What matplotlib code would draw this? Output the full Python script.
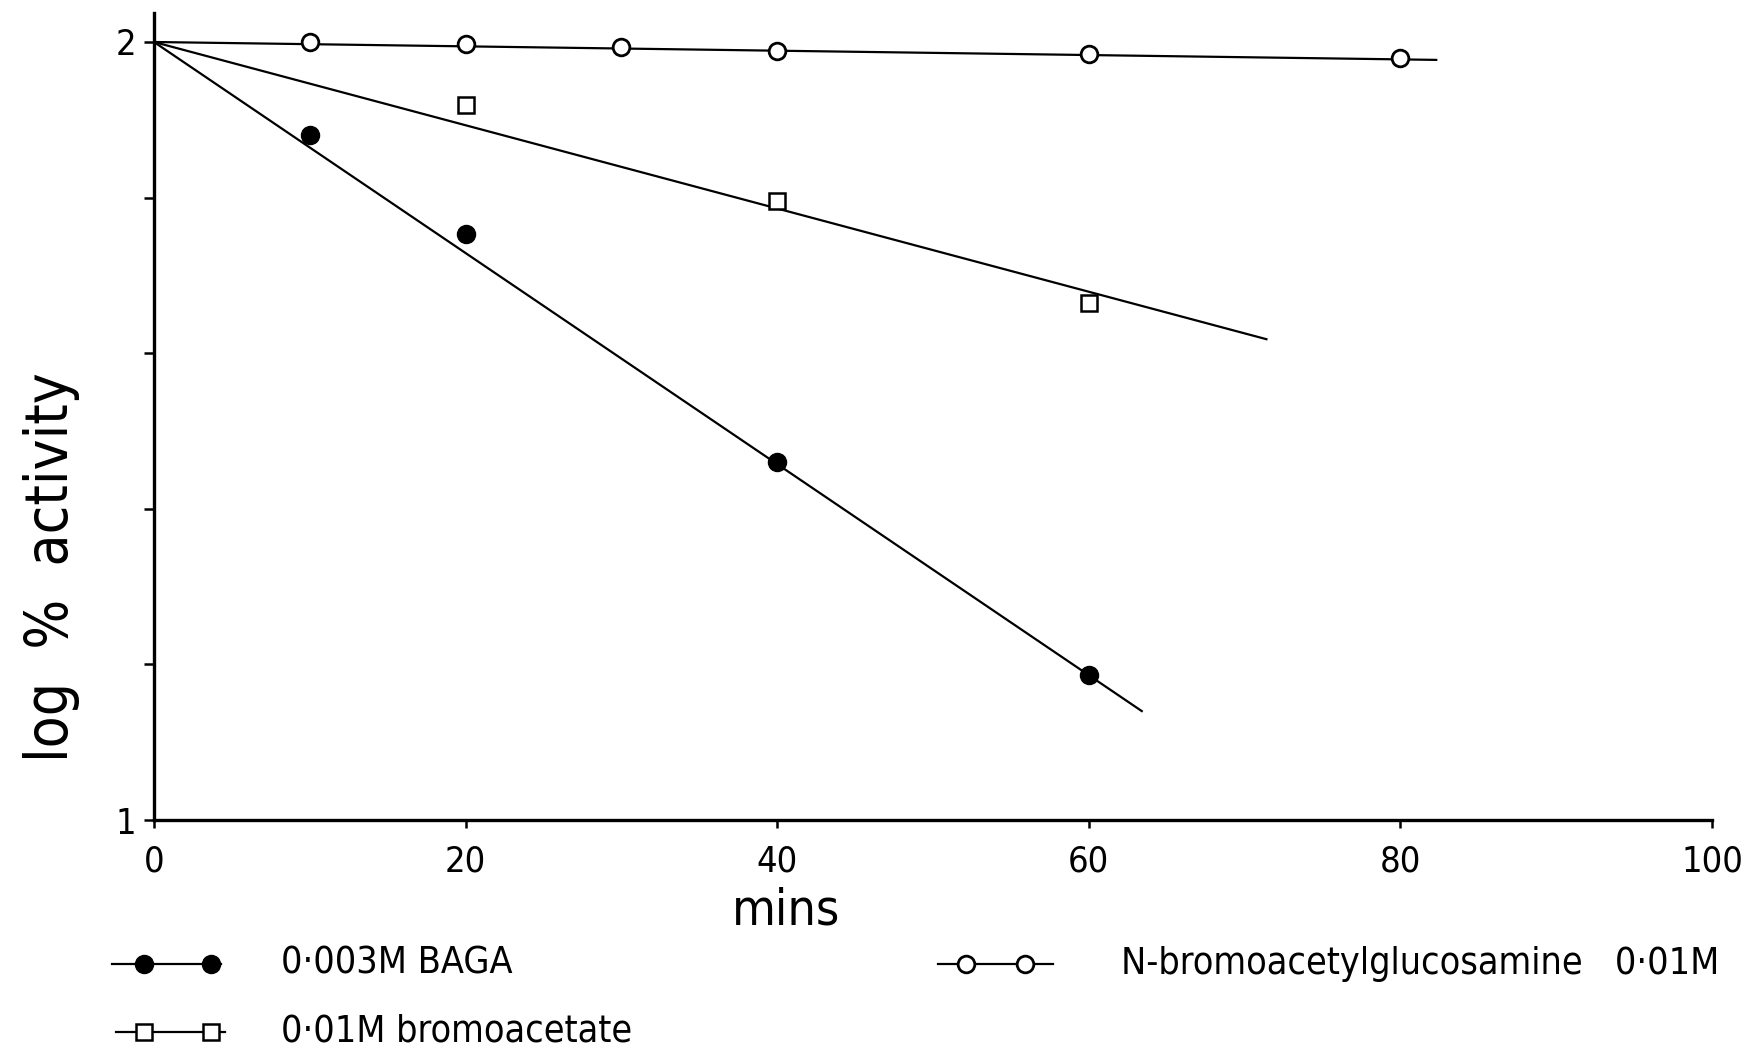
import matplotlib
matplotlib.use("Agg")
import matplotlib.pyplot as plt
from matplotlib.lines import Line2D

plt.rcParams['font.family'] = ['DejaVu Sans']
plt.rcParams['font.stretch'] = 'condensed'

# Measured points: time (mins) vs log % activity
baga_t = [10, 20, 40, 60]
baga_y = [1.880, 1.753, 1.460, 1.186]
bromo_t = [20, 40, 60]
bromo_y = [1.919, 1.795, 1.664]
nbag_t = [10, 20, 30, 40, 60, 80]
nbag_y = [2.000, 1.998, 1.994, 1.988, 1.985, 1.979]

# Fitted straight lines (start and end points)
baga_fit_t = [0, 63.4]
baga_fit_y = [2.0, 1.140]
bromo_fit_t = [0, 71.4]
bromo_fit_y = [2.0, 1.618]
nbag_fit_t = [0, 82.3]
nbag_fit_y = [2.0, 1.977]

x_ticks = [0, 20, 40, 60, 80, 100]
y_ticks = [1.0, 1.2, 1.4, 1.6, 1.8, 2.0]
y_tick_labels = ['1', '', '', '', '', '2']

labels = ['0·003M BAGA', '0·01M bromoacetate', 'N-bromoacetylglucosamine   0·01M']

W, H = 1762, 1056
fig = plt.figure(figsize=(W / 100, H / 100), dpi=100)
ax = fig.add_axes([154 / W, 1 - 820 / H, (1712 - 154) / W, (820 - 13) / H])

lw = 1.6
ax.plot(baga_fit_t, baga_fit_y, color='black', lw=lw, zorder=2)
ax.plot(bromo_fit_t, bromo_fit_y, color='black', lw=lw, zorder=2)
ax.plot(nbag_fit_t, nbag_fit_y, color='black', lw=lw, zorder=2)

ax.plot(baga_t, baga_y, 'o', ms=13, color='black', zorder=3, clip_on=False)
ax.plot(bromo_t, bromo_y, 's', ms=11, mfc='white', mec='black', mew=1.8, zorder=3)
ax.plot(nbag_t, nbag_y, 'o', ms=12, mfc='white', mec='black', mew=2.0, zorder=3)

ax.set_xlim(0, 100)
ax.set_ylim(1.0, 2.0 + 29 / 778)
for side in ['top', 'right']:
    ax.spines[side].set_visible(False)
for side in ['left', 'bottom']:
    ax.spines[side].set_linewidth(2.4)

ax.set_xticks(x_ticks)
ax.set_xticklabels([str(v) for v in x_ticks])
ax.set_yticks(y_ticks)
ax.set_yticklabels(y_tick_labels)
ax.tick_params(axis='x', direction='out', length=6, width=1.8, pad=12, labelsize=26)
ax.tick_params(axis='y', direction='out', length=7, width=1.8, pad=6, labelsize=26)

ax.set_xlabel('mins', fontsize=36)
ax.xaxis.set_label_coords(0.406, -0.083)
ax.set_ylabel('log  %  activity', fontsize=42, va='center')
ax.yaxis.set_label_coords(-0.066, 0.3135)

# Legend glyphs and labels below the axes
def fx(px):
    return px / W

def fy(py):
    return 1 - py / H

def glyph(x0, x1, xm, yp, **mk):
    fig.add_artist(Line2D([fx(x0), fx(x1)], [fy(yp), fy(yp)], transform=fig.transFigure,
                          color='black', lw=lw))
    fig.add_artist(Line2D([fx(m) for m in xm], [fy(yp)] * len(xm), transform=fig.transFigure,
                          ls='none', **mk))

glyph(112, 221, [144, 211], 964, marker='o', ms=13, color='black')
glyph(116, 225, [144, 211], 1032, marker='s', ms=11, mfc='white', mec='black', mew=1.8)
glyph(938, 1053, [966, 1025], 964, marker='o', ms=12, mfc='white', mec='black', mew=2.0)

fig.text(fx(281), fy(964), labels[0], fontsize=27, va='center', ha='left')
fig.text(fx(281), fy(1032), labels[1], fontsize=27, va='center', ha='left')
fig.text(fx(1121), fy(964), labels[2], fontsize=27, va='center', ha='left')

fig.savefig('out.png', dpi=100, facecolor='white')
